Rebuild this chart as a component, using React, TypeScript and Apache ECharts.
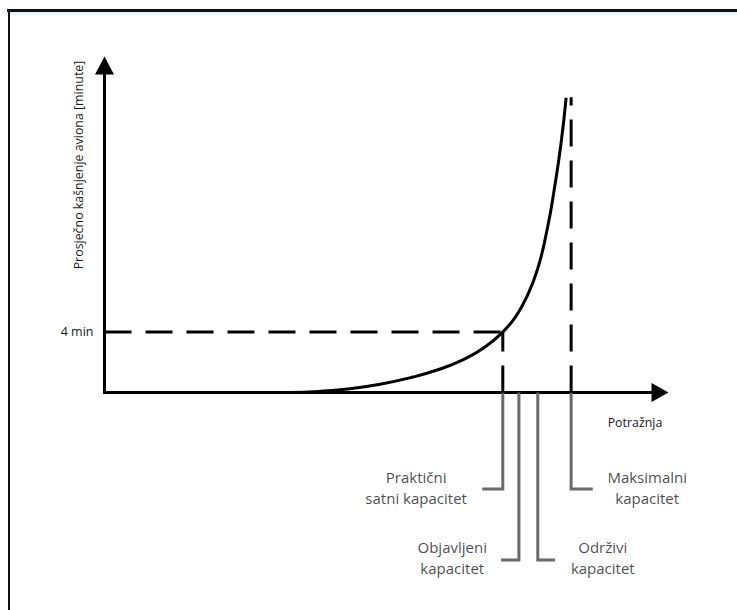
import React, { useEffect, useRef } from "react";
import * as echarts from "echarts";

// Delay curve: demand (relative units) vs average delay (minutes)
const curveDemand = [33.4, 38.5, 43.7, 49.6, 55.5, 60.0, 64.5, 68.3, 71.7, 74.0, 76.0, 78.0, 79.7, 81.0, 82.2, 83.1];
const curveDelay = [0, 0.07, 0.23, 0.55, 1.02, 1.5, 2.15, 2.95, 4.0, 5.0, 6.3, 8.2, 10.8, 13.5, 16.5, 19.47];

const referenceDelay = 4; // "4 min"
const practicalCap = 71.7;
const maxCap = 84.0;
const maxCapTop = 19.5;

// Capacity leaders: axis x, depth (min, below axis), end x
const leaderNames = ["Praktični", "Objavljeni", "Održivi", "Maksimalni"];
const leaderX = [71.7, 74.6, 78.0, 84.0];
const leaderDepth = [-6.38, -11.07, -11.07, -6.38];
const leaderEndX = [68.0, 71.4, 81.1, 87.9];

const labelTexts = ["Praktični\nsatni kapacitet", "Objavljeni\nkapacitet", "Održivi\nkapacitet", "Maksimalni\nkapacitet"];
const labelX = [56.1, 62.6, 89.7, 97.7];
const labelY = [-6.28, -10.91, -10.91, -6.28];

const xAxisTitle = "Potražnja";
const yAxisTitle = "Prosječno kašnjenje aviona [minute]";
const yTickValues = [4];

const FONT = "'Open Sans', 'Noto Sans', sans-serif";

export default function App() {
  const ref = useRef<HTMLDivElement>(null);
  useEffect(() => {
    if (!ref.current) return;
    const chart = echarts.init(ref.current, null, { renderer: "svg" });
    const dash = [27, 14];
    const series: any[] = [
      {
        type: "line",
        name: "delay",
        data: curveDemand.map((d, i) => [d, curveDelay[i]]),
        smooth: 0.5,
        showSymbol: false,
        symbol: "none",
        clip: false,
        lineStyle: { color: "#000", width: 3 },
        z: 5,
      },
      {
        type: "line",
        data: [[0, referenceDelay], [practicalCap, referenceDelay]],
        symbol: "none",
        clip: false,
        lineStyle: { color: "#000", width: 3, type: dash, cap: "butt" },
      },
      {
        type: "line",
        data: [[practicalCap, 0], [practicalCap, referenceDelay]],
        symbol: "none",
        clip: false,
        lineStyle: { color: "#000", width: 3, type: dash, cap: "butt" },
      },
      {
        type: "line",
        data: [[maxCap, 0], [maxCap, maxCapTop]],
        symbol: "none",
        clip: false,
        lineStyle: { color: "#000", width: 3, type: dash, cap: "butt" },
      },
    ];
    leaderNames.forEach((n, i) => {
      series.push({
        type: "line",
        name: n,
        data: [[leaderX[i], 0], [leaderX[i], leaderDepth[i]], [leaderEndX[i], leaderDepth[i]]],
        symbol: "none",
        clip: false,
        lineStyle: { color: "#6a6a6a", width: 3, join: "miter" },
        z: 1,
      });
    });
    series.push({
      type: "scatter",
      data: labelTexts.map((t, i) => [labelX[i], labelY[i], t]),
      symbolSize: 1,
      clip: false,
      itemStyle: { color: "rgba(0,0,0,0)" },
      label: {
        show: true,
        position: "inside",
        formatter: (p: any) => p.value[2],
        fontFamily: FONT,
        fontSize: 15,
        lineHeight: 21,
        color: "#1a1a1a",
        align: "center",
      },
    });

    chart.setOption({
      animation: false,
      grid: { left: 104.5, right: 77, top: 65.5, bottom: 217.5, containLabel: false },
      xAxis: {
        type: "value",
        min: 0,
        max: 100,
        axisLine: {
          show: true,
          symbol: ["none", "triangle"],
          symbolSize: [19, 17],
          lineStyle: { color: "#000", width: 3 },
        },
        axisTick: { show: false },
        axisLabel: { show: false },
        splitLine: { show: false },
      },
      yAxis: {
        type: "value",
        min: 0,
        max: 21.6,
        axisLine: {
          show: true,
          symbol: ["none", "triangle"],
          symbolSize: [19, 18],
          lineStyle: { color: "#000", width: 3 },
        },
        axisTick: { show: false },
        axisLabel: {
          show: true,
          customValues: yTickValues,
          formatter: (v: number) => `${v} min`,
          fontFamily: FONT,
          fontSize: 12.5,
          color: "#1a1a1a",
          margin: 11,
        },
        splitLine: { show: false },
      },
      graphic: [
        {
          type: "rect",
          shape: { x: 9, y: 12, width: 728, height: 5 },
          style: {
            fill: new echarts.graphic.LinearGradient(0, 0, 0, 1, [
              { offset: 0, color: "#e4edf8" },
              { offset: 1, color: "#ffffff" },
            ]),
          },
          silent: true,
        },
        {
          type: "line",
          shape: { x1: 7, y1: 10.5, x2: 737, y2: 10.5 },
          style: { stroke: "#111", lineWidth: 3 },
        },
        {
          type: "line",
          shape: { x1: 9, y1: 9, x2: 9, y2: 610 },
          style: { stroke: "#111", lineWidth: 2 },
        },
        {
          type: "text",
          x: 78,
          y: 165,
          rotation: Math.PI / 2,
          style: {
            text: yAxisTitle,
            fontFamily: FONT,
            fontSize: 12.4,
            fill: "#1a1a1a",
            textAlign: "center",
            textVerticalAlign: "middle",
          },
        },
        {
          type: "text",
          x: 635,
          y: 422,
          style: {
            text: xAxisTitle,
            fontFamily: FONT,
            fontSize: 12.4,
            fill: "#1a1a1a",
            textAlign: "center",
            textVerticalAlign: "middle",
          },
        },
      ],
      series,
    });
    return () => chart.dispose();
  }, []);
  return (
    <div
      ref={ref}
      style={{ position: "fixed", left: 0, top: 0, width: 737, height: 610, background: "#fff" }}
    />
  );
}
